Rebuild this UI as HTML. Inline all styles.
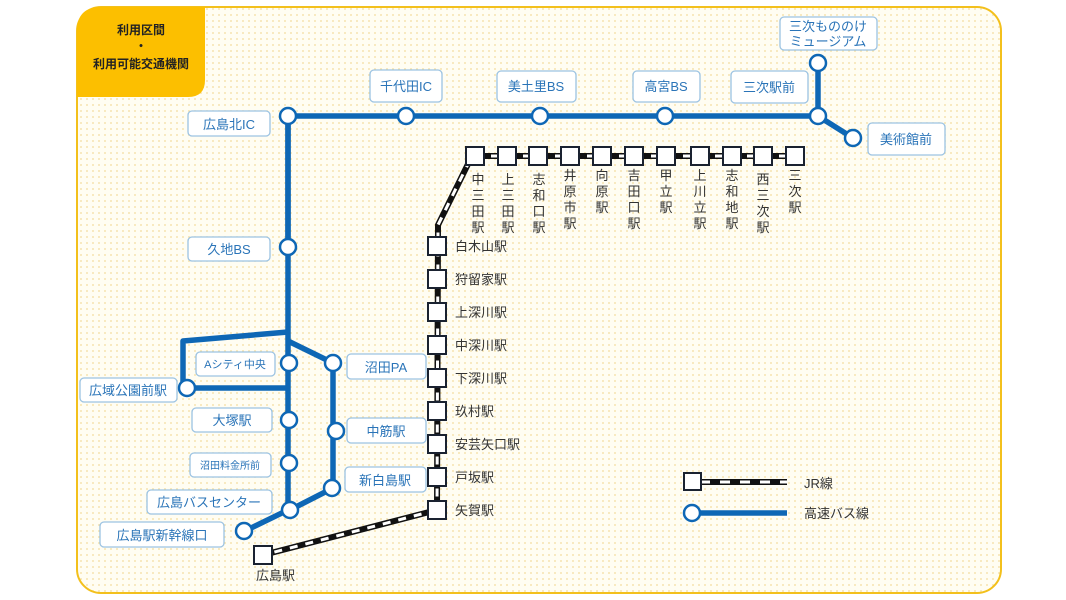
<!DOCTYPE html>
<html><head><meta charset="utf-8"><style>
html,body{margin:0;padding:0;background:#fff;}
svg{display:block;}
text{font-family:"Liberation Sans","Noto Sans CJK JP",sans-serif;}
.lb{fill:#fff;stroke:#9cc3e2;stroke-width:1.3;}
.bt{fill:#2a74b8;font-size:13px;text-anchor:middle;}
.jt{fill:#333;font-size:13px;}
.sq{fill:#fff;stroke:#1a2230;stroke-width:2;}
.nd{fill:#fff;stroke:#0e67b5;stroke-width:2.5;}
.bus{fill:none;stroke:#0e67b5;stroke-width:5.5;stroke-linejoin:round;}
.rb{fill:none;stroke:#111;stroke-width:6;}
.rw{fill:none;stroke:#fff;stroke-width:3;stroke-dasharray:8 8;}
</style></head><body>
<svg width="1066" height="600" viewBox="0 0 1066 600">
<defs>
<pattern id="dots" width="6" height="6" patternUnits="userSpaceOnUse">
<rect width="6" height="6" fill="#fffdf2"/>
<circle cx="3" cy="3" r="0.9" fill="#f3dc9c"/>
</pattern>
</defs>
<rect x="77" y="7" width="924" height="586" rx="24" fill="url(#dots)" stroke="#f3c01c" stroke-width="2"/>
<path d="M77 31 Q77 7 101 7 L205 7 L205 80 Q205 97 188 97 L77 97 Z" fill="#fcbf00"/>
<text x="141" y="34" text-anchor="middle" font-size="12" font-weight="bold" fill="#222">利用区間</text>
<text x="141" y="50" text-anchor="middle" font-size="12" font-weight="bold" fill="#222">・</text>
<text x="141" y="68" text-anchor="middle" font-size="12" font-weight="bold" fill="#222">利用可能交通機関</text>

<!-- bus lines -->
<polyline class="bus" points="288,247 288,116 818,116 818,63"/>
<polyline class="bus" points="818,116 853,138"/>
<polyline class="bus" points="288,116 288,510 245,531"/>
<polyline class="bus" points="288,332 183,341 183,388 288,388"/>
<polyline class="bus" points="288,341 333,363 333,488 290,510"/>

<!-- rail lines -->
<g>
<polyline class="rb" points="475,156 795,156"/>
<polyline class="rw" points="475,156 795,156"/>
<polyline class="rb" points="470,160 438,225 437,510"/>
<polyline class="rw" points="470,160 438,225 437,510"/>
<polyline class="rb" points="437,510 263,555"/>
<polyline class="rw" points="437,510 263,555"/>
</g>

<!-- JR squares -->
<g class="sq">
<rect x="466" y="147" width="18" height="18"/><rect x="498" y="147" width="18" height="18"/>
<rect x="529" y="147" width="18" height="18"/><rect x="561" y="147" width="18" height="18"/>
<rect x="593" y="147" width="18" height="18"/><rect x="625" y="147" width="18" height="18"/>
<rect x="657" y="147" width="18" height="18"/><rect x="691" y="147" width="18" height="18"/>
<rect x="723" y="147" width="18" height="18"/><rect x="754" y="147" width="18" height="18"/>
<rect x="786" y="147" width="18" height="18"/>
<rect x="428" y="237" width="18" height="18"/><rect x="428" y="270" width="18" height="18"/>
<rect x="428" y="303" width="18" height="18"/><rect x="428" y="336" width="18" height="18"/>
<rect x="428" y="369" width="18" height="18"/><rect x="428" y="402" width="18" height="18"/>
<rect x="428" y="435" width="18" height="18"/><rect x="428" y="468" width="18" height="18"/>
<rect x="428" y="501" width="18" height="18"/>
<rect x="254" y="546" width="18" height="18"/>
</g>

<!-- horizontal JR labels (vertical text) -->
<g class="jt" text-anchor="middle">
<text x="478" y="184">中</text><text x="478" y="200">三</text><text x="478" y="216">田</text><text x="478" y="232">駅</text>
<text x="508" y="184">上</text><text x="508" y="200">三</text><text x="508" y="216">田</text><text x="508" y="232">駅</text>
<text x="539" y="184">志</text><text x="539" y="200">和</text><text x="539" y="216">口</text><text x="539" y="232">駅</text>
<text x="570" y="180">井</text><text x="570" y="196">原</text><text x="570" y="212">市</text><text x="570" y="228">駅</text>
<text x="602" y="180">向</text><text x="602" y="196">原</text><text x="602" y="212">駅</text>
<text x="634" y="180">吉</text><text x="634" y="196">田</text><text x="634" y="212">口</text><text x="634" y="228">駅</text>
<text x="666" y="180">甲</text><text x="666" y="196">立</text><text x="666" y="212">駅</text>
<text x="700" y="180">上</text><text x="700" y="196">川</text><text x="700" y="212">立</text><text x="700" y="228">駅</text>
<text x="732" y="180">志</text><text x="732" y="196">和</text><text x="732" y="212">地</text><text x="732" y="228">駅</text>
<text x="763" y="184">西</text><text x="763" y="200">三</text><text x="763" y="216">次</text><text x="763" y="232">駅</text>
<text x="795" y="180">三</text><text x="795" y="196">次</text><text x="795" y="212">駅</text>
</g>
<g class="jt">
<text x="455" y="251">白木山駅</text><text x="455" y="284">狩留家駅</text><text x="455" y="317">上深川駅</text>
<text x="455" y="350">中深川駅</text><text x="455" y="383">下深川駅</text><text x="455" y="416">玖村駅</text>
<text x="455" y="449">安芸矢口駅</text><text x="455" y="482">戸坂駅</text><text x="455" y="515">矢賀駅</text>
<text x="256" y="580">広島駅</text>
</g>

<!-- bus nodes -->
<g class="nd">
<circle cx="288" cy="116" r="8"/><circle cx="406" cy="116" r="8"/><circle cx="540" cy="116" r="8"/>
<circle cx="665" cy="116" r="8"/><circle cx="818" cy="116" r="8"/><circle cx="818" cy="63" r="8"/>
<circle cx="853" cy="138" r="8"/><circle cx="288" cy="247" r="8"/><circle cx="289" cy="363" r="8"/>
<circle cx="187" cy="388" r="8"/><circle cx="289" cy="420" r="8"/><circle cx="289" cy="463" r="8"/>
<circle cx="290" cy="510" r="8"/><circle cx="244" cy="531" r="8"/><circle cx="333" cy="363" r="8"/>
<circle cx="336" cy="431" r="8"/><circle cx="332" cy="488" r="8"/>
</g>

<!-- labels -->
<rect class="lb" x="188" y="111" width="82" height="25" rx="4"/><text class="bt" x="229" y="129">広島北IC</text>
<rect class="lb" x="370" y="70" width="72" height="32" rx="4"/><text class="bt" x="406" y="91">千代田IC</text>
<rect class="lb" x="497" y="71" width="79" height="31" rx="4"/><text class="bt" x="536" y="91">美土里BS</text>
<rect class="lb" x="633" y="71" width="67" height="31" rx="4"/><text class="bt" x="666" y="91">高宮BS</text>
<rect class="lb" x="731" y="71" width="77" height="32" rx="4"/><text class="bt" x="769" y="92">三次駅前</text>
<rect class="lb" x="780" y="17" width="97" height="33" rx="4"/><text class="bt" x="828" y="31">三次もののけ</text><text class="bt" x="828" y="46">ミュージアム</text>
<rect class="lb" x="868" y="123" width="77" height="32" rx="4"/><text class="bt" x="906" y="144">美術館前</text>
<rect class="lb" x="188" y="237" width="82" height="24" rx="4"/><text class="bt" x="229" y="254">久地BS</text>
<rect class="lb" x="196" y="352" width="79" height="24" rx="4"/><text class="bt" x="235" y="368" style="font-size:11px">Aシティ中央</text>
<rect class="lb" x="80" y="378" width="97" height="24" rx="4"/><text class="bt" x="128" y="395">広域公園前駅</text>
<rect class="lb" x="192" y="408" width="80" height="24" rx="4"/><text class="bt" x="232" y="425">大塚駅</text>
<rect class="lb" x="190" y="453" width="81" height="24" rx="4"/><text class="bt" x="230" y="469" style="font-size:10px">沼田料金所前</text>
<rect class="lb" x="147" y="490" width="125" height="24" rx="4"/><text class="bt" x="209" y="507">広島バスセンター</text>
<rect class="lb" x="100" y="522" width="124" height="25" rx="4"/><text class="bt" x="162" y="540">広島駅新幹線口</text>
<rect class="lb" x="347" y="354" width="79" height="25" rx="4"/><text class="bt" x="386" y="372">沼田PA</text>
<rect class="lb" x="347" y="418" width="79" height="25" rx="4"/><text class="bt" x="386" y="436">中筋駅</text>
<rect class="lb" x="345" y="467" width="81" height="25" rx="4"/><text class="bt" x="385" y="485">新白島駅</text>

<!-- legend -->
<polyline class="rb" points="692,482 787,482"/>
<polyline class="rw" points="700,482 787,482" style="stroke-dasharray:10 10"/>
<rect class="sq" x="684" y="473" width="17" height="17"/>
<text class="jt" x="804" y="488">JR線</text>
<polyline class="bus" points="692,513 787,513"/>
<circle class="nd" cx="692" cy="513" r="8"/>
<text class="jt" x="804" y="518">高速バス線</text>
</svg>
</body></html>
